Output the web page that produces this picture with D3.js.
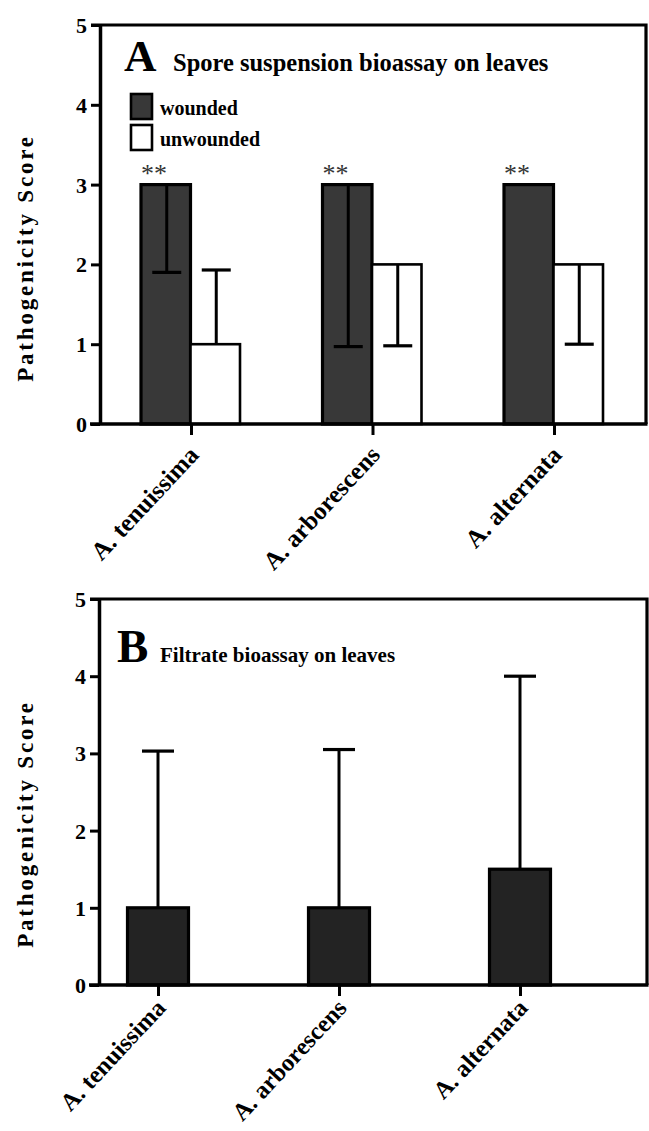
<!DOCTYPE html>
<html>
<head>
<meta charset="utf-8">
<script src="https://cdn.jsdelivr.net/npm/d3@7"></script>
<style>
  body { margin: 0; background: #fff; }
  svg { display: block; }
  text { font-family: "Liberation Serif", "Times New Roman", serif; font-weight: bold; fill: #000; }
</style>
</head>
<body>
<svg id="chart" width="649" height="1131"></svg>
<script>
// Data
var species = ["A. tenuissima", "A. arborescens", "A. alternata"];
var groups = ["wounded", "unwounded"];
var yTicks = [0, 1, 2, 3, 4, 5];

// Panel A - spore suspension
var sporeWounded = [3, 3, 3];
var sporeWoundedErr = [1.9, 0.97, null];   // end of error bar (drawn down into the bar)
var sporeUnwounded = [1, 2, 2];
var sporeUnwoundedErr = [1.93, 0.98, 1.0];
var sigMarks = ["**", "**", "**"];

// Panel B - filtrate
var filtrate = [1, 1, 1.5];
var filtrateErr = [3.03, 3.05, 4.0];

var svg = d3.select("#chart");
var fillDark = "#383838";

function drawYAxis(g, y, x0) {
  var ax = d3.axisLeft(y).tickValues(yTicks).tickFormat(d3.format("d"))
    .tickSize(9).tickSizeOuter(0).tickPadding(4);
  var a = g.append("g").attr("transform", "translate(" + x0 + ",0)").call(ax);
  a.select(".domain").attr("stroke-width", 3.5);
  a.selectAll(".tick line").attr("stroke-width", 3);
  a.selectAll(".tick text").style("font-size", "22px").attr("dy", "0.34em");
}

function drawXAxis(g, x, y0, x0, x1, labOff, labSize) {
  var ax = d3.axisBottom(x).tickSize(11).tickSizeOuter(0).tickFormat("");
  var a = g.append("g").attr("transform", "translate(0," + y0 + ")").call(ax);
  a.select(".domain").remove();
  a.selectAll(".tick line").attr("stroke-width", 3);
  g.append("line").attr("x1", x0 - 10).attr("x2", x1 + 1.5).attr("y1", y0).attr("y2", y0)
    .attr("stroke", "#000").attr("stroke-width", 3.5);
  // rotated category labels
  g.selectAll(".xlab").data(species).enter().append("text")
    .attr("class", "xlab")
    .attr("text-anchor", "end")
    .attr("transform", function(d) { return "translate(" + (x(d) + 9) + "," + (y0 + labOff) + ") rotate(-47)"; })
    .style("font-size", labSize + "px")
    .text(function(d) { return d; });
}

function drawFrame(g, x0, x1, yTop, yBot) {
  g.append("path")
    .attr("d", "M" + (x0 - 9) + "," + yTop + "H" + x1 + "V" + yBot)
    .attr("fill", "none").attr("stroke", "#000").attr("stroke-width", 3.2);
}

function yLabel(g, cy) {
  g.append("text")
    .attr("transform", "translate(33," + cy + ") rotate(-90)")
    .attr("text-anchor", "middle")
    .style("font-size", "23px")
    .style("letter-spacing", "2.8px")
    .text("Pathogenicity Score");
}

function errBar(g, cx, yFrom, yTo, cap) {
  g.append("line").attr("x1", cx).attr("x2", cx).attr("y1", yFrom).attr("y2", yTo)
    .attr("stroke", "#000").attr("stroke-width", 3);
  g.append("line").attr("x1", cx - cap / 2).attr("x2", cx + cap / 2).attr("y1", yTo).attr("y2", yTo)
    .attr("stroke", "#000").attr("stroke-width", 3.2);
}

// ---------- Panel A ----------
var gA = svg.append("g");
var yA = d3.scaleLinear().domain([0, 5]).range([424, 25]);
var xA = d3.scalePoint().domain(species).range([191, 554]);
var xSub = d3.scaleBand().domain(groups).range([-50, 49]);

drawFrame(gA, 100, 646, 25, 424);
yLabel(gA, 258);

var sporeData = species.map(function(s, i) {
  return [
    {sp: s, grp: "wounded", v: sporeWounded[i], err: sporeWoundedErr[i]},
    {sp: s, grp: "unwounded", v: sporeUnwounded[i], err: sporeUnwoundedErr[i]}
  ];
});
var flatSpore = [].concat.apply([], sporeData);

gA.selectAll(".bar").data(flatSpore).enter().append("rect")
  .attr("class", "bar")
  .attr("x", function(d) { return xA(d.sp) + xSub(d.grp); })
  .attr("width", xSub.bandwidth())
  .attr("y", function(d) { return yA(d.v); })
  .attr("height", function(d) { return yA(0) - yA(d.v); })
  .attr("fill", function(d) { return d.grp == "wounded" ? fillDark : "#fff"; })
  .attr("stroke", "#000")
  .attr("stroke-width", function(d) { return d.grp == "wounded" ? 3.2 : 2.6; });

flatSpore.forEach(function(d) {
  if (d.err == null) return;
  var cx = xA(d.sp) + xSub(d.grp) + xSub.bandwidth() / 2 + 1;
  errBar(gA, cx, yA(d.v), yA(d.err), 29);
});

// significance marks
gA.selectAll(".sig").data(species).enter().append("text")
  .attr("class", "sig")
  .attr("x", function(d) { return xA(d) + xSub("wounded"); })
  .attr("y", 182)
  .style("font-size", "26px")
  .style("font-weight", "normal")
  .style("fill", "#333")
  .text(function(d, i) { return sigMarks[i]; });

drawYAxis(gA, yA, 100);
drawXAxis(gA, xA, 424, 100, 646, 32, 25);

// title + legend
gA.append("text").attr("x", 124).attr("y", 71).style("font-size", "45px").text("A");
gA.append("text").attr("x", 173).attr("y", 71).style("font-size", "24.5px").text("Spore suspension bioassay on leaves");

var leg = gA.selectAll(".leg").data(groups).enter().append("g")
  .attr("class", "leg")
  .attr("transform", function(d, i) { return "translate(131," + (94 + i * 31) + ")"; });
leg.append("rect").attr("width", 21).attr("height", 25)
  .attr("fill", function(d) { return d == "wounded" ? fillDark : "#fff"; })
  .attr("stroke", "#000").attr("stroke-width", 2.6);
leg.append("text").attr("x", 29).attr("y", 21).style("font-size", "20px").text(function(d) { return d; });

// ---------- Panel B ----------
var gB = svg.append("g");
var yB = d3.scaleLinear().domain([0, 5]).range([985, 599]);
var xB = d3.scalePoint().domain(species).range([158, 520]);
var barW = 61;

drawFrame(gB, 99, 647, 599, 985);
yLabel(gB, 824);

var filtData = species.map(function(s, i) { return {sp: s, v: filtrate[i], err: filtrateErr[i]}; });

filtData.forEach(function(d) {
  errBar(gB, xB(d.sp), yB(d.v), yB(d.err), 32);
});

gB.selectAll(".bar").data(filtData).enter().append("rect")
  .attr("class", "bar")
  .attr("x", function(d) { return xB(d.sp) - barW / 2; })
  .attr("width", barW)
  .attr("y", function(d) { return yB(d.v); })
  .attr("height", function(d) { return yB(0) - yB(d.v); })
  .attr("fill", "#232323")
  .attr("stroke", "#000")
  .attr("stroke-width", 3.2);

drawYAxis(gB, yB, 99);
drawXAxis(gB, xB, 985, 99, 647, 24, 24.5);

gB.append("text").attr("x", 117).attr("y", 662).style("font-size", "47px").text("B");
gB.append("text").attr("x", 160).attr("y", 662).style("font-size", "21px").text("Filtrate bioassay on leaves");
</script>
</body>
</html>
